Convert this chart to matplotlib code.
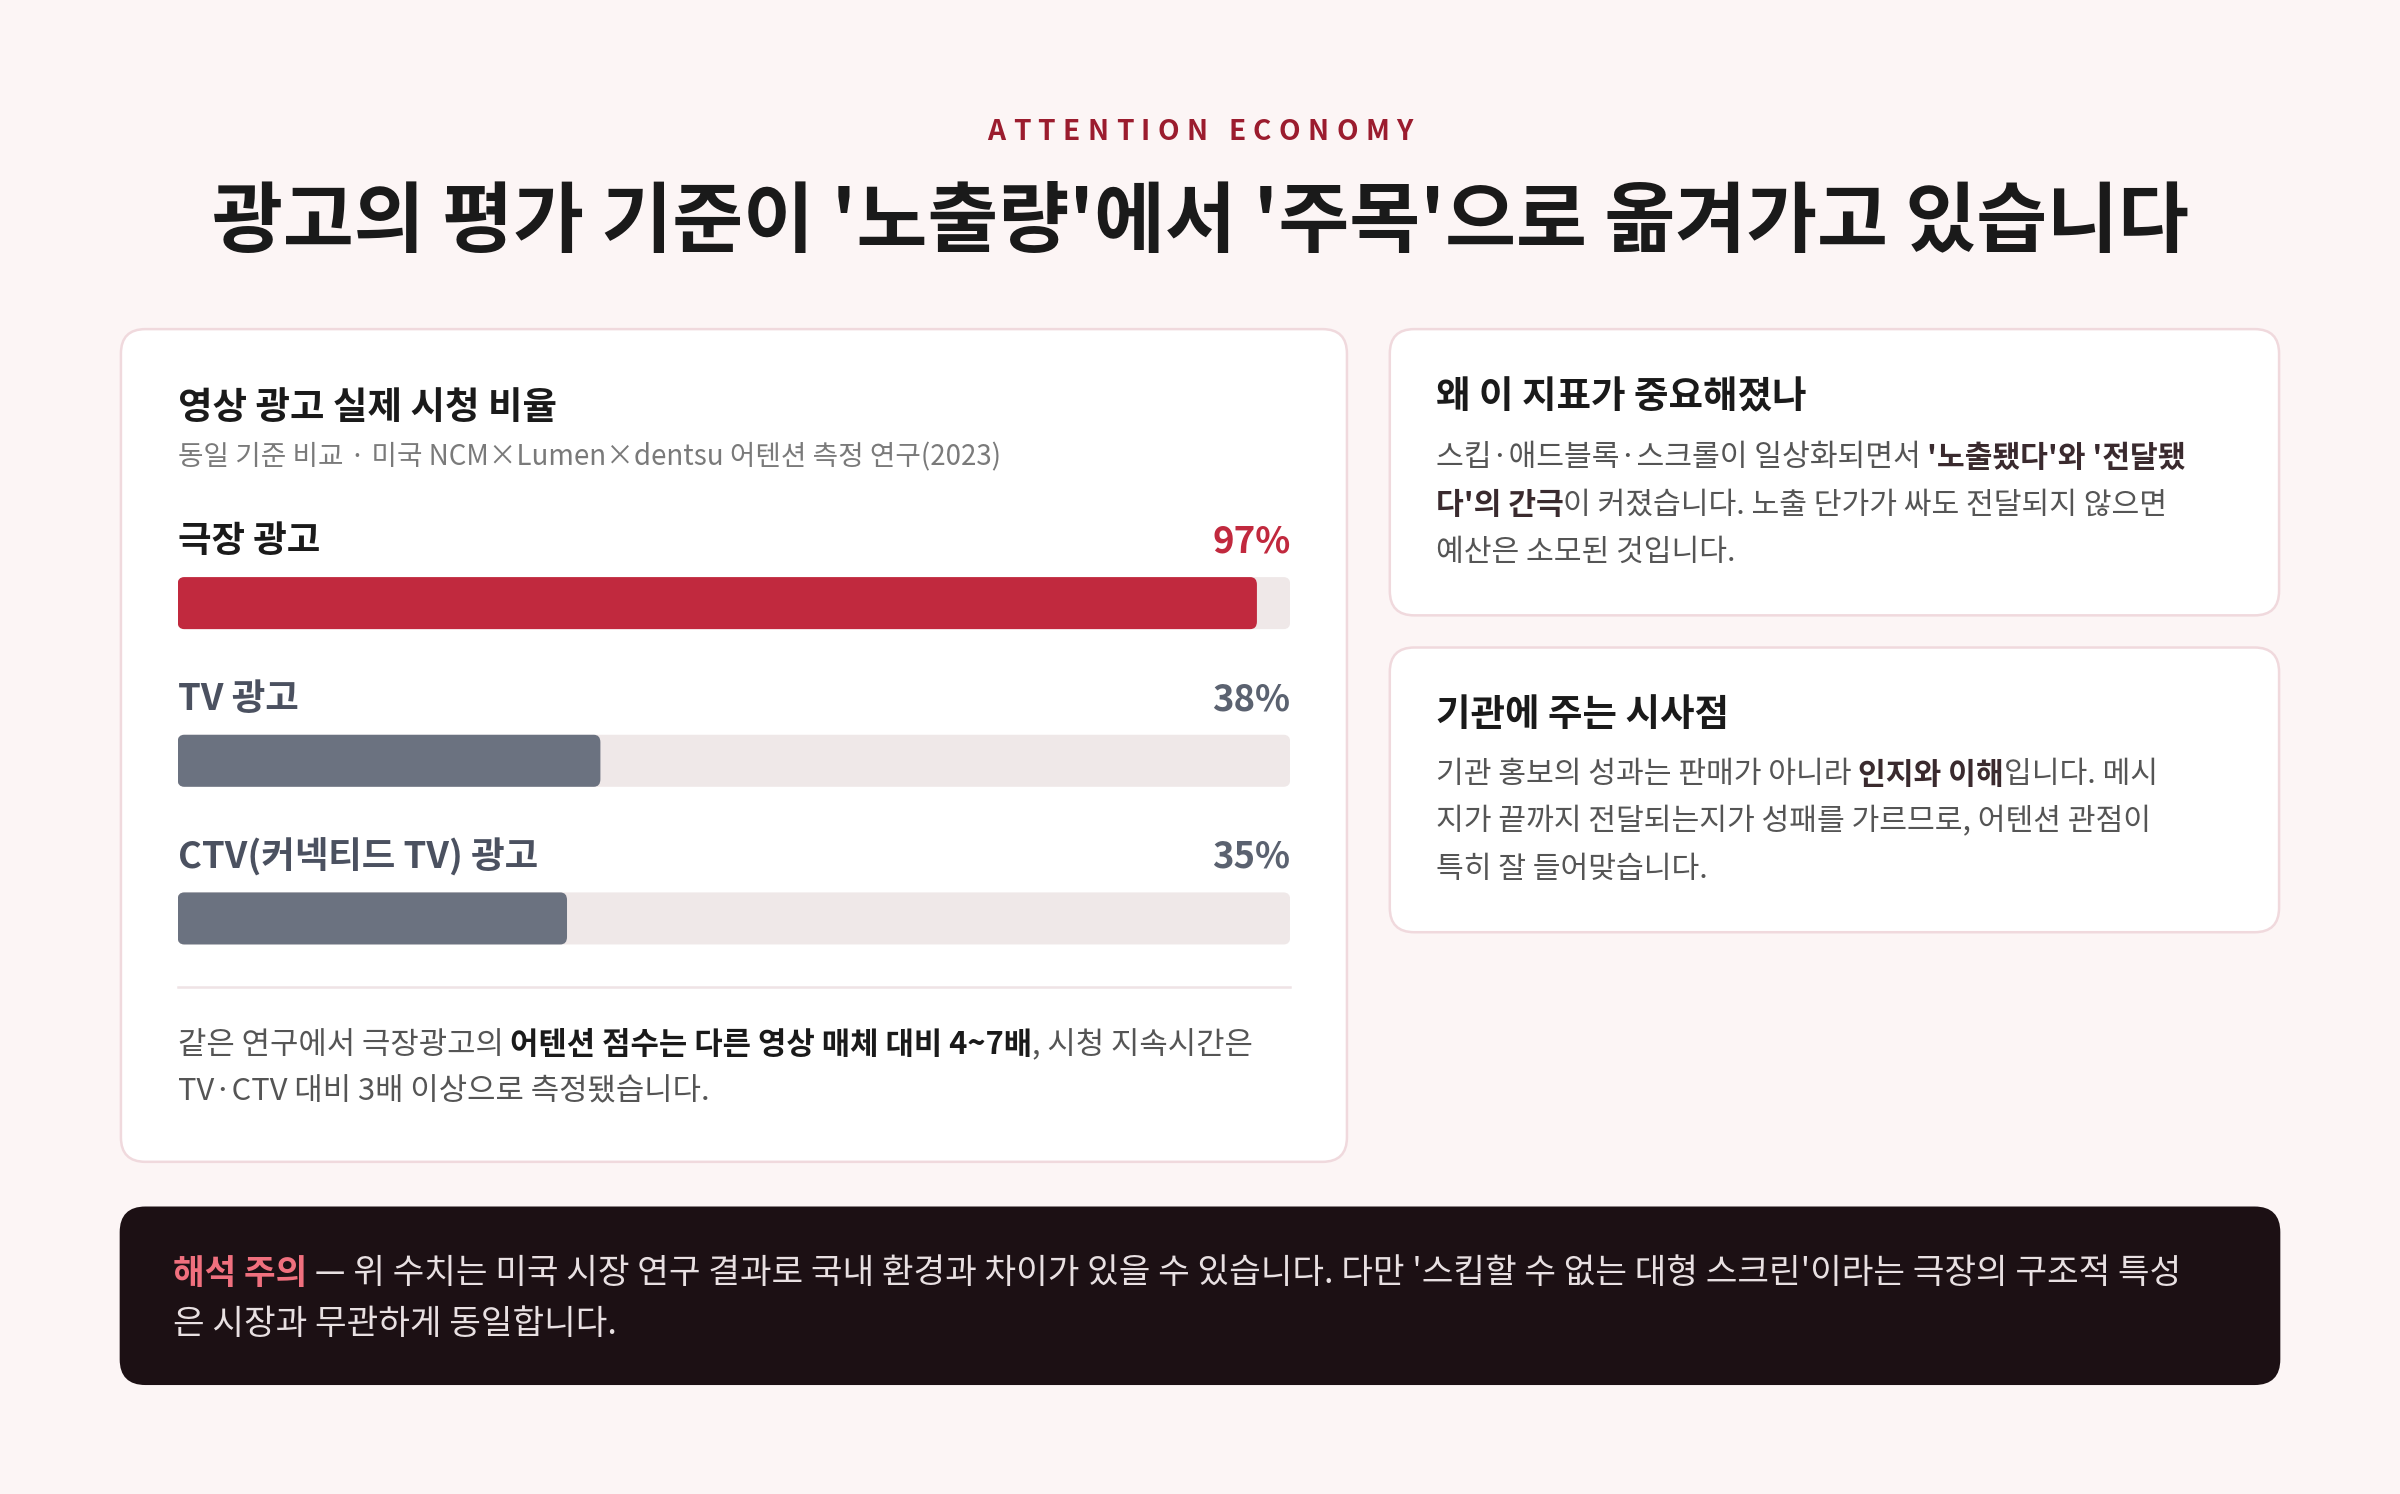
import matplotlib
matplotlib.use("Agg")
import matplotlib.pyplot as plt
from matplotlib.patches import FancyBboxPatch

plt.rcParams['font.family'] = ['Noto Sans CJK KR', 'DejaVu Sans']

# data
categories = ['극장 광고', 'TV 광고', 'CTV(커넥티드 TV) 광고']
values = [97, 38, 35]
value_labels = ['97%', '38%', '35%']
bar_colors = ['#c1293e', '#6b7280', '#6b7280']
label_colors = ['#c1293e', '#5b6270', '#5b6270']

W, H = 1568, 976
fig = plt.figure(figsize=(16, 9.96), dpi=150)
fig.patch.set_facecolor('#fcf5f5')
ax = fig.add_axes([0, 0, 1, 1])
ax.set_xlim(0, W)
ax.set_ylim(H, 0)
ax.axis('off')
renderer = fig.canvas.get_renderer()


def width_of(t):
    bb = t.get_window_extent(renderer)
    inv = ax.transData.inverted()
    (x0, _), (x1, _) = inv.transform([(bb.x0, 0), (bb.x1, 0)])
    return x1 - x0


def runs(x, y, parts, size):
    for txt, weight, color in parts:
        t = ax.text(x, y, txt, fontsize=size, fontweight=weight, color=color, va='center')
        x += width_of(t)


def card(x0, y0, x1, y1, fc='white', ec='#f0d9dd', r=16):
    ax.add_patch(FancyBboxPatch((x0, y0), x1 - x0, y1 - y0,
                                boxstyle=f"round,pad=0,rounding_size={r}",
                                fc=fc, ec=ec, lw=1.2))

# header
kicker = 'ATTENTION ECONOMY'
tmp = [ax.text(0, -100, c, fontsize=13.5, fontweight='bold') for c in kicker]
ws = [width_of(t) for t in tmp]
for t in tmp:
    t.remove()
sp = 4.8
total = sum(ws) + sp * (len(ws) - 1)
x = W / 2 - total / 2
for c, w in zip(kicker, ws):
    ax.text(x, 86, c, fontsize=13.5, fontweight='bold', color='#9b1c2e', va='center')
    x += w + sp
ax.text(W / 2, 146, "광고의 평가 기준이 '노출량'에서 '주목'으로 옮겨가고 있습니다",
        fontsize=37, fontweight='bold', color='#1a1a1a', ha='center', va='center')

# left card
card(79, 215, 880, 759)
ax.text(116, 266, '영상 광고 실제 시청 비율', fontsize=18, fontweight='bold', color='#1a1a1a', va='center')
ax.text(116, 299, '동일 기준 비교 · 미국 NCM×Lumen×dentsu 어텐션 측정 연구(2023)',
        fontsize=13.3, color='#7a7a7a', va='center')

label_y = [354, 457, 560]
for cat, val, lab, lc, ly in zip(categories, values, value_labels, label_colors, label_y):
    ax.text(116, ly, cat, fontsize=17.5, fontweight='bold',
            color='#1a1a1a' if lc == '#c1293e' else '#4b5160', va='center')
    ax.text(843, ly, lab, fontsize=17.5, fontweight='bold', color=lc, ha='right', va='center')

bax = fig.add_axes([116 / W, 1 - 651.5 / H, (843 - 116) / W, 309 / H])
bax.set_xlim(0, 100)
bax.set_ylim(2.5, -0.5)
bax.axis('off')
pos = list(range(len(values)))
for p, v, c in zip(pos, values, bar_colors):
    bax.add_patch(FancyBboxPatch((0, p - 0.165), 100, 0.33,
                                 boxstyle="round,pad=0,rounding_size=0.6",
                                 fc='#efe8e8', ec='none', mutation_aspect=0.08))
    bax.add_patch(FancyBboxPatch((0, p - 0.165), v, 0.33,
                                 boxstyle="round,pad=0,rounding_size=0.6",
                                 fc=c, ec='none', mutation_aspect=0.08))

ax.plot([116, 843], [645, 645], color='#efe3e5', lw=1.2)
runs(116, 683, [('같은 연구에서 극장광고의 ', 'normal', '#555'),
                ('어텐션 점수는 다른 영상 매체 대비 4~7배', 'bold', '#1a1a1a'),
                (', 시청 지속시간은', 'normal', '#555')], 14.8)
runs(116, 713, [('TV·CTV 대비 3배 이상으로 측정됐습니다.', 'normal', '#555')], 14.8)

# right cards
card(908, 215, 1489, 402)
ax.text(938, 259, '왜 이 지표가 중요해졌나', fontsize=18, fontweight='bold', color='#1a1a1a', va='center')
runs(938, 299, [('스킵·애드블록·스크롤이 일상화되면서 ', 'normal', '#555'),
                ("'노출됐다'와 '전달됐", 'bold', '#3a2a2e')], 14.5)
runs(938, 330, [("다'의 간극", 'bold', '#3a2a2e'),
                ('이 커졌습니다. 노출 단가가 싸도 전달되지 않으면', 'normal', '#555')], 14.5)
runs(938, 361, [('예산은 소모된 것입니다.', 'normal', '#555')], 14.5)

card(908, 423, 1489, 609)
ax.text(938, 467, '기관에 주는 시사점', fontsize=18, fontweight='bold', color='#1a1a1a', va='center')
runs(938, 506, [('기관 홍보의 성과는 판매가 아니라 ', 'normal', '#555'),
                ('인지와 이해', 'bold', '#3a2a2e'),
                ('입니다. 메시', 'normal', '#555')], 14.5)
runs(938, 537, [('지가 끝까지 전달되는지가 성패를 가르므로, 어텐션 관점이', 'normal', '#555')], 14.5)
runs(938, 568, [('특히 잘 들어맞습니다.', 'normal', '#555')], 14.5)

# dark note
card(79, 789, 1489, 904, fc='#1c1014', ec='#1c1014')
runs(113, 832, [('해석 주의', 'bold', '#f0707e'),
                (" — 위 수치는 미국 시장 연구 결과로 국내 환경과 차이가 있을 수 있습니다. 다만 '스킵할 수 없는 대형 스크린'이라는 극장의 구조적 특성",
                 'normal', '#e8e0e2')], 16.5)
runs(113, 865, [('은 시장과 무관하게 동일합니다.', 'normal', '#e8e0e2')], 16.5)

fig.savefig('out.png', dpi=150, facecolor=fig.get_facecolor())
